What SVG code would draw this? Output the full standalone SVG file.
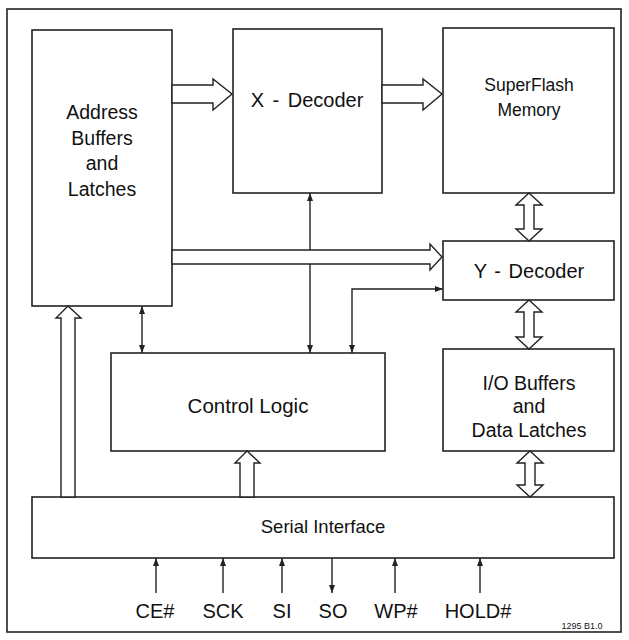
<svg xmlns="http://www.w3.org/2000/svg" width="629" height="640" viewBox="0 0 629 640">
<defs>
<style>
.box{fill:#fff;stroke:#222;stroke-width:1.6}
.frame{fill:#fff;stroke:#222;stroke-width:1.6}
.lbl{font-family:"Liberation Sans",Arial,sans-serif;font-size:19.5px;fill:#111;text-anchor:middle}
.pin{font-family:"Liberation Sans",Arial,sans-serif;font-size:20px;fill:#111;text-anchor:middle}
.wide{fill:#fff;stroke:#222;stroke-width:1.4;stroke-linejoin:miter}
.ln{fill:none;stroke:#222;stroke-width:1.4}
</style>
<marker id="ah" viewBox="0 0 8 6" refX="8" refY="3" markerWidth="8" markerHeight="6" markerUnits="userSpaceOnUse" orient="auto-start-reverse">
<path d="M0,0 L8,3 L0,6 z" fill="#222"/>
</marker>
</defs>
<rect class="frame" x="7" y="9" width="614" height="623"/>
<g id="address-buffers">
<rect class="box" x="32" y="30" width="140" height="276"/>
<text class="lbl" x="102" y="119">Address</text>
<text class="lbl" x="102" y="145">Buffers</text>
<text class="lbl" x="102" y="170">and</text>
<text class="lbl" x="102" y="196">Latches</text>
</g>
<g id="x-decoder">
<rect class="box" x="233" y="29" width="149" height="164"/>
<text class="lbl" x="307" y="107" style="font-size:20px;word-spacing:3px">X - Decoder</text>
</g>
<g id="superflash">
<rect class="box" x="443" y="28" width="171" height="165"/>
<text class="lbl" x="529" y="91" style="font-size:17.5px">SuperFlash</text>
<text class="lbl" x="529" y="116" style="font-size:17.5px">Memory</text>
</g>
<g id="y-decoder">
<rect class="box" x="443" y="241" width="171" height="59"/>
<text class="lbl" x="529" y="278" style="font-size:20px;word-spacing:2px">Y - Decoder</text>
</g>
<g id="control-logic">
<rect class="box" x="111" y="353" width="274" height="98"/>
<text class="lbl" x="248" y="413" style="font-size:20.5px">Control Logic</text>
</g>
<g id="io-buffers">
<rect class="box" x="443" y="349" width="171" height="102"/>
<text class="lbl" x="529" y="390">I/O Buffers</text>
<text class="lbl" x="529" y="413">and</text>
<text class="lbl" x="529" y="437">Data Latches</text>
</g>
<g id="serial-interface">
<rect class="box" x="32" y="497" width="582" height="61"/>
<text class="lbl" x="323" y="533" style="font-size:18.5px">Serial Interface</text>
</g>
<g id="connectors">
<line class="ln" x1="310" y1="193" x2="310" y2="353" marker-start="url(#ah)" marker-end="url(#ah)"/>
<line class="ln" x1="142" y1="306" x2="142" y2="353" marker-start="url(#ah)" marker-end="url(#ah)"/>
<path class="ln" d="M352,353 L352,289 L443,289" marker-start="url(#ah)" marker-end="url(#ah)"/>
<polygon class="wide" points="172,85 213,85 213,79 232,94 213,110 213,103 172,103"/>
<polygon class="wide" points="382,85 423,85 423,79 442,94 423,110 423,103 382,103"/>
<polygon class="wide" points="172,250 430,250 430,244 442,257 430,270 430,264 172,264"/>
<polygon class="wide" points="529,193 542,205 534,205 534,229 542,229 529,241 516,229 524,229 524,205 516,205"/>
<polygon class="wide" points="529,300 542,312 534,312 534,337 542,337 529,349 516,337 524,337 524,312 516,312"/>
<polygon class="wide" points="530,451 543,463 535,463 535,485 543,485 530,497 517,485 525,485 525,463 517,463"/>
<polygon class="wide" points="247,451 260,463 254,463 254,497 240,497 240,463 235,463"/>
<polygon class="wide" points="68,306 81,318 75,318 75,497 61,497 61,318 56,318"/>
<line class="ln" x1="156" y1="593" x2="156" y2="558" marker-end="url(#ah)"/>
<line class="ln" x1="223" y1="593" x2="223" y2="558" marker-end="url(#ah)"/>
<line class="ln" x1="282" y1="593" x2="282" y2="558" marker-end="url(#ah)"/>
<line class="ln" x1="332" y1="558" x2="332" y2="593" marker-end="url(#ah)"/>
<line class="ln" x1="395" y1="593" x2="395" y2="558" marker-end="url(#ah)"/>
<line class="ln" x1="480" y1="593" x2="480" y2="558" marker-end="url(#ah)"/>
</g>
<g id="pins">
<text class="pin" x="155" y="618">CE#</text>
<text class="pin" x="223" y="618">SCK</text>
<text class="pin" x="282" y="618">SI</text>
<text class="pin" x="333" y="618">SO</text>
<text class="pin" x="396" y="618">WP#</text>
<text class="pin" x="478" y="618">HOLD#</text>
</g>
<text x="582" y="629" style="font-family:'Liberation Sans',Arial,sans-serif;font-size:9px;fill:#111;text-anchor:middle">1295 B1.0</text>
</svg>
